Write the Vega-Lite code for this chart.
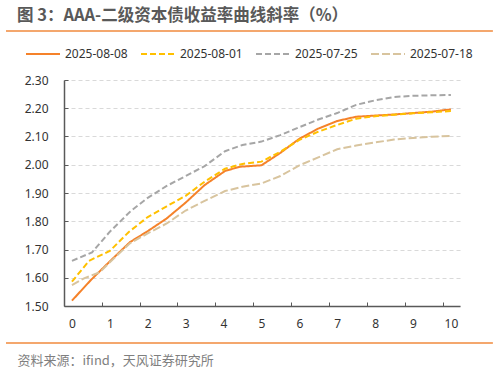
{
  "$schema": "https://vega.github.io/schema/vega-lite/v6.json",
  "width": 396,
  "height": 226,
  "autosize": "none",
  "padding": {"left": 64, "top": 80, "right": 39, "bottom": 67},
  "background": "white",
  "config": {
    "view": {"stroke": null},
    "font": "Noto Sans",
    "title": {"font": "Noto Sans CJK SC"}
  },
  "title": {
    "text": "图 3：AAA-二级资本债收益率曲线斜率（%）",
    "anchor": "start",
    "frame": "group",
    "dx": -47,
    "offset": 6,
    "fontSize": 16.5,
    "fontWeight": "bold",
    "color": "#595959",
    "font": "Noto Sans CJK SC"
  },
  "datasets": {
    "curves": [
      {"tenor": 0, "value": 1.519, "date": "2025-08-08"},
      {"tenor": 0.5, "value": 1.592, "date": "2025-08-08"},
      {"tenor": 1.0, "value": 1.658, "date": "2025-08-08"},
      {"tenor": 1.53, "value": 1.726, "date": "2025-08-08"},
      {"tenor": 2.0, "value": 1.765, "date": "2025-08-08"},
      {"tenor": 2.5, "value": 1.810, "date": "2025-08-08"},
      {"tenor": 3.0, "value": 1.866, "date": "2025-08-08"},
      {"tenor": 3.5, "value": 1.928, "date": "2025-08-08"},
      {"tenor": 4.04, "value": 1.978, "date": "2025-08-08"},
      {"tenor": 4.43, "value": 1.993, "date": "2025-08-08"},
      {"tenor": 5.0, "value": 1.998, "date": "2025-08-08"},
      {"tenor": 5.5, "value": 2.042, "date": "2025-08-08"},
      {"tenor": 6.0, "value": 2.092, "date": "2025-08-08"},
      {"tenor": 6.5, "value": 2.128, "date": "2025-08-08"},
      {"tenor": 7.0, "value": 2.155, "date": "2025-08-08"},
      {"tenor": 7.5, "value": 2.170, "date": "2025-08-08"},
      {"tenor": 8.0, "value": 2.174, "date": "2025-08-08"},
      {"tenor": 8.5, "value": 2.178, "date": "2025-08-08"},
      {"tenor": 9.0, "value": 2.183, "date": "2025-08-08"},
      {"tenor": 9.5, "value": 2.188, "date": "2025-08-08"},
      {"tenor": 10.0, "value": 2.196, "date": "2025-08-08"},

      {"tenor": 0, "value": 1.586, "date": "2025-08-01"},
      {"tenor": 0.45, "value": 1.660, "date": "2025-08-01"},
      {"tenor": 1.0, "value": 1.695, "date": "2025-08-01"},
      {"tenor": 1.5, "value": 1.762, "date": "2025-08-01"},
      {"tenor": 2.0, "value": 1.815, "date": "2025-08-01"},
      {"tenor": 2.5, "value": 1.853, "date": "2025-08-01"},
      {"tenor": 3.0, "value": 1.890, "date": "2025-08-01"},
      {"tenor": 3.5, "value": 1.940, "date": "2025-08-01"},
      {"tenor": 4.04, "value": 1.986, "date": "2025-08-01"},
      {"tenor": 4.5, "value": 2.003, "date": "2025-08-01"},
      {"tenor": 5.0, "value": 2.011, "date": "2025-08-01"},
      {"tenor": 5.5, "value": 2.046, "date": "2025-08-01"},
      {"tenor": 6.0, "value": 2.088, "date": "2025-08-01"},
      {"tenor": 6.5, "value": 2.117, "date": "2025-08-01"},
      {"tenor": 7.0, "value": 2.141, "date": "2025-08-01"},
      {"tenor": 7.5, "value": 2.163, "date": "2025-08-01"},
      {"tenor": 8.0, "value": 2.172, "date": "2025-08-01"},
      {"tenor": 8.5, "value": 2.177, "date": "2025-08-01"},
      {"tenor": 9.0, "value": 2.182, "date": "2025-08-01"},
      {"tenor": 9.5, "value": 2.186, "date": "2025-08-01"},
      {"tenor": 10.0, "value": 2.190, "date": "2025-08-01"},

      {"tenor": 0, "value": 1.660, "date": "2025-07-25"},
      {"tenor": 0.53, "value": 1.690, "date": "2025-07-25"},
      {"tenor": 1.0, "value": 1.763, "date": "2025-07-25"},
      {"tenor": 1.55, "value": 1.836, "date": "2025-07-25"},
      {"tenor": 2.0, "value": 1.883, "date": "2025-07-25"},
      {"tenor": 2.5, "value": 1.925, "date": "2025-07-25"},
      {"tenor": 3.0, "value": 1.960, "date": "2025-07-25"},
      {"tenor": 3.5, "value": 1.995, "date": "2025-07-25"},
      {"tenor": 4.04, "value": 2.048, "date": "2025-07-25"},
      {"tenor": 4.5, "value": 2.070, "date": "2025-07-25"},
      {"tenor": 5.0, "value": 2.082, "date": "2025-07-25"},
      {"tenor": 5.5, "value": 2.105, "date": "2025-07-25"},
      {"tenor": 6.0, "value": 2.133, "date": "2025-07-25"},
      {"tenor": 6.5, "value": 2.160, "date": "2025-07-25"},
      {"tenor": 7.0, "value": 2.183, "date": "2025-07-25"},
      {"tenor": 7.5, "value": 2.212, "date": "2025-07-25"},
      {"tenor": 8.0, "value": 2.228, "date": "2025-07-25"},
      {"tenor": 8.5, "value": 2.240, "date": "2025-07-25"},
      {"tenor": 9.0, "value": 2.244, "date": "2025-07-25"},
      {"tenor": 9.5, "value": 2.246, "date": "2025-07-25"},
      {"tenor": 10.0, "value": 2.247, "date": "2025-07-25"},

      {"tenor": 0, "value": 1.574, "date": "2025-07-18"},
      {"tenor": 0.32, "value": 1.598, "date": "2025-07-18"},
      {"tenor": 0.74, "value": 1.620, "date": "2025-07-18"},
      {"tenor": 1.0, "value": 1.655, "date": "2025-07-18"},
      {"tenor": 1.53, "value": 1.722, "date": "2025-07-18"},
      {"tenor": 2.0, "value": 1.757, "date": "2025-07-18"},
      {"tenor": 2.5, "value": 1.792, "date": "2025-07-18"},
      {"tenor": 3.0, "value": 1.838, "date": "2025-07-18"},
      {"tenor": 3.5, "value": 1.872, "date": "2025-07-18"},
      {"tenor": 4.04, "value": 1.907, "date": "2025-07-18"},
      {"tenor": 4.5, "value": 1.922, "date": "2025-07-18"},
      {"tenor": 5.0, "value": 1.934, "date": "2025-07-18"},
      {"tenor": 5.5, "value": 1.960, "date": "2025-07-18"},
      {"tenor": 6.0, "value": 1.998, "date": "2025-07-18"},
      {"tenor": 6.5, "value": 2.026, "date": "2025-07-18"},
      {"tenor": 7.0, "value": 2.055, "date": "2025-07-18"},
      {"tenor": 7.5, "value": 2.068, "date": "2025-07-18"},
      {"tenor": 8.0, "value": 2.079, "date": "2025-07-18"},
      {"tenor": 8.5, "value": 2.089, "date": "2025-07-18"},
      {"tenor": 9.0, "value": 2.095, "date": "2025-07-18"},
      {"tenor": 9.5, "value": 2.099, "date": "2025-07-18"},
      {"tenor": 10.0, "value": 2.102, "date": "2025-07-18"}
    ]
  },
  "layer": [
    {
      "data": {"name": "curves"},
      "mark": {"type": "line", "strokeWidth": 2},
      "encoding": {
        "x": {
          "field": "tenor",
          "type": "quantitative",
          "scale": {"domain": [-0.21, 10.24], "nice": false, "zero": false},
          "axis": {
            "values": [0, 1, 2, 3, 4, 5, 6, 7, 8, 9, 10],
            "tickCount": 30,
            "format": "d",
            "grid": false,
            "labelOverlap": false,
            "tickOffset": 29.7,
            "labelOffset": -29.7,
            "tickSize": -4,
            "tickColor": {"condition": {"test": "datum.value === 10", "value": "transparent"}, "value": "#595959"},
            "labelPadding": 16,
            "labelFontSize": 12,
            "labelColor": "#333333",
            "labelFont": "Noto Sans",
            "domainColor": "#595959",
            "domainWidth": 1.5,
            "title": "资料来源：ifind，天风证券研究所",
            "titleAnchor": "start",
            "titleAlign": "left",
            "titleBaseline": "middle",
            "titleX": -47,
            "titleY": 54,
            "titleFont": "Noto Sans CJK SC",
            "titleFontSize": 13,
            "titleFontWeight": "normal",
            "titleColor": "#7F7F7F"
          }
        },
        "y": {
          "field": "value",
          "type": "quantitative",
          "scale": {"domain": [1.5, 2.3], "nice": false, "zero": false},
          "axis": {
            "values": [1.5, 1.6, 1.7, 1.8, 1.9, 2.0, 2.1, 2.2, 2.3],
            "tickCount": 30,
            "format": ".2f",
            "grid": true,
            "labelOverlap": false,
            "gridDash": [4, 3],
            "gridColor": "#D9D9D9",
            "gridWidth": 1,
            "tickSize": -4,
            "tickColor": "#595959",
            "labelPadding": 20,
            "labelFontSize": 12,
            "labelColor": "#333333",
            "labelFont": "Noto Sans",
            "domainColor": "#595959",
            "domainWidth": 1.5,
            "title": null
          }
        },
        "color": {
          "field": "date",
          "type": "nominal",
          "scale": {
            "domain": ["2025-08-08", "2025-08-01", "2025-07-25", "2025-07-18"],
            "range": ["#F5822A", "#FFC000", "#A6A6A6", "#D8C49E"]
          },
          "legend": {
            "title": null,
            "orient": "none",
            "legendX": -39,
            "legendY": -44,
            "direction": "horizontal",
            "symbolType": "stroke",
            "symbolSize": 1156,
            "symbolStrokeWidth": 2,
            "labelFontSize": 12,
            "labelFont": "Noto Sans",
            "labelColor": "#333333",
            "labelOffset": 4,
            "columnPadding": 9,
            "padding": 0
          }
        },
        "strokeDash": {
          "field": "date",
          "type": "nominal",
          "scale": {
            "domain": ["2025-08-08", "2025-08-01", "2025-07-25", "2025-07-18"],
            "range": [[1, 0], [6, 3], [6, 3], [8, 3]]
          },
          "legend": {
            "title": null,
            "orient": "none",
            "legendX": -39,
            "legendY": -44,
            "direction": "horizontal",
            "symbolType": "stroke",
            "symbolSize": 1156,
            "symbolStrokeWidth": 2,
            "labelFontSize": 12,
            "labelFont": "Noto Sans",
            "labelColor": "#333333",
            "labelOffset": 4,
            "columnPadding": 9,
            "padding": 0
          }
        }
      }
    },
    {
      "data": {"values": [{"pos": "top"}]},
      "mark": {"type": "rule", "color": "#F08A3C", "strokeWidth": 1.5},
      "encoding": {
        "x": {"datum": -1.741, "type": "quantitative"},
        "x2": {"datum": 11.108},
        "y": {"datum": 2.4735, "type": "quantitative"}
      }
    },
    {
      "data": {"values": [{"pos": "bottom"}]},
      "mark": {"type": "rule", "color": "#F08A3C", "strokeWidth": 1.5},
      "encoding": {
        "x": {"datum": -1.741, "type": "quantitative"},
        "x2": {"datum": 11.108},
        "y": {"datum": 1.369, "type": "quantitative"}
      }
    }
  ]
}
